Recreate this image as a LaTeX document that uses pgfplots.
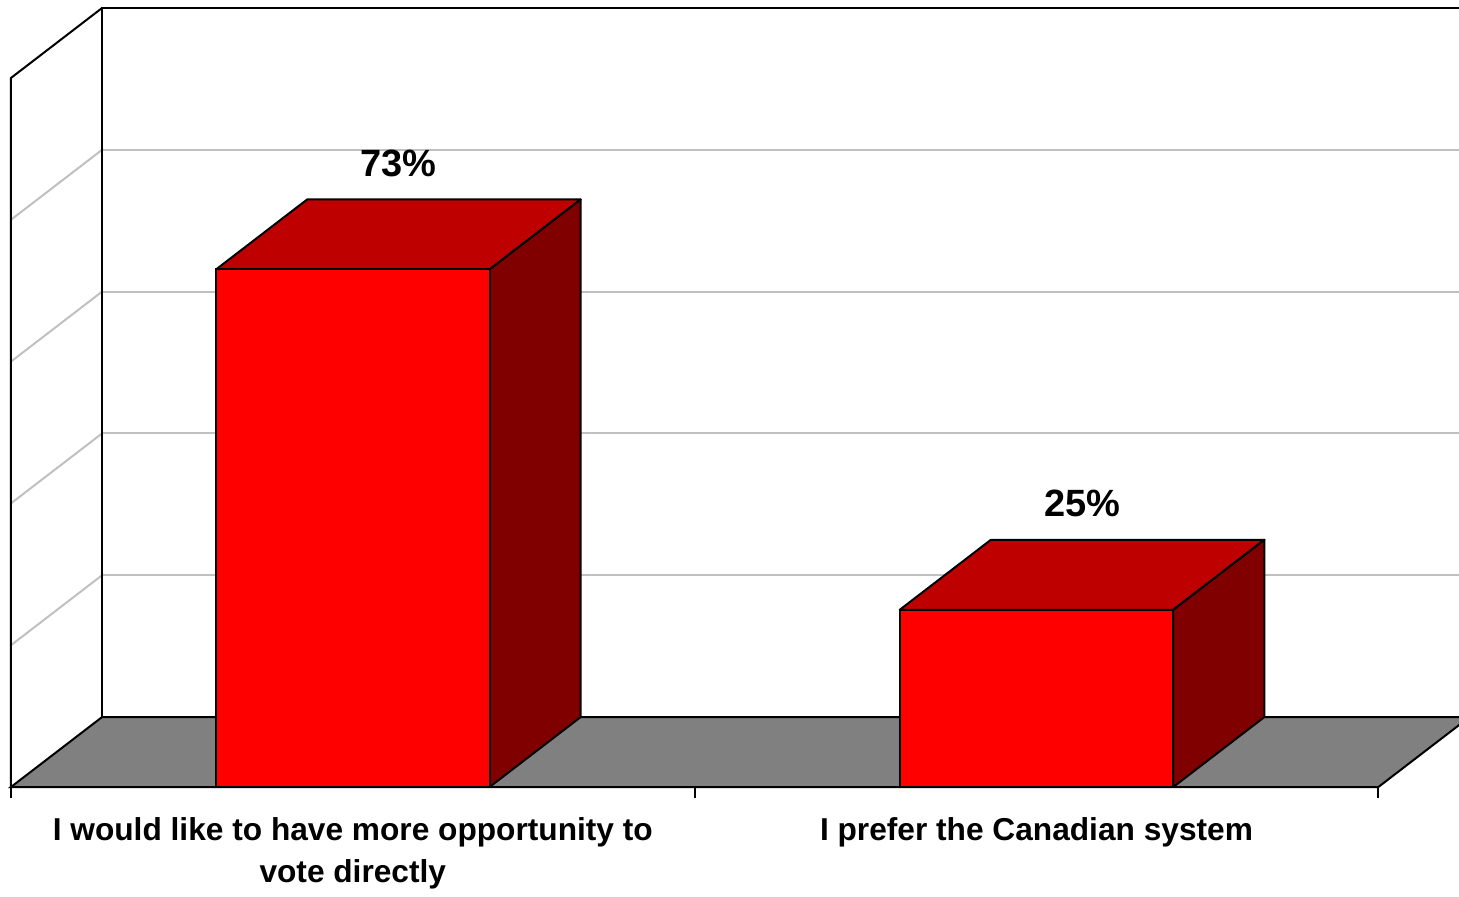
\documentclass[border=0pt]{standalone}
\usepackage{fontspec}
\setmainfont{Liberation Sans}
\usepackage{pgfplots}
\usepackage{pgfplotstable}
\pgfplotsset{compat=1.18}
\definecolor{frontred}{HTML}{FF0000}
\definecolor{topred}{HTML}{BF0000}
\definecolor{sidered}{HTML}{800000}
\definecolor{floorgray}{HTML}{808080}
\definecolor{gridgray}{HTML}{C0C0C0}

\pgfplotstableread{
x v
0 73
1 25
}\bars

\pgfplotstablegetelem{0}{v}\of\bars \edef\va{\pgfplotsretval}
\pgfplotstablegetelem{1}{v}\of\bars \edef\vb{\pgfplotsretval}

% depth offsets (axis units) and half bar width
\def\ddx{0.1333}
\def\ddy{9.87}
\def\hw{0.2}

\newcommand\barfaces[2]{%
  \pgfmathsetmacro\xl{#1-\hw}\pgfmathsetmacro\xr{#1+\hw}%
  \pgfmathsetmacro\xlb{#1-\hw+\ddx}\pgfmathsetmacro\xrb{#1+\hw+\ddx}%
  \pgfmathsetmacro\vt{#2+\ddy}%
  \edef\tmp{%
    \noexpand\addplot[fill=topred,draw=black,line width=0.6pt,line join=round] coordinates {(\xl,#2) (\xr,#2) (\xrb,\vt) (\xlb,\vt)} -- cycle;
    \noexpand\addplot[fill=sidered,draw=black,line width=0.6pt,line join=round] coordinates {(\xr,0) (\xrb,\ddy) (\xrb,\vt) (\xr,#2)} -- cycle;
  }\tmp}

\begin{document}
\begin{tikzpicture}
\begin{axis}[
  width=437.7pt, height=239.3pt, scale only axis,
  xmin=-0.516, xmax=1.618, ymin=-1.5, ymax=111.0,
  axis line style={draw=none},
  ytick=\empty,
  xtick={0,1},
  xtick pos=bottom,
  major tick length=0pt,
  xticklabels={{I would like to have more opportunity to\\vote directly},{I prefer the Canadian system}},
  xticklabel style={align=center, font=\bfseries\fontsize{9.5}{12.6}\selectfont, yshift=-3.9pt, inner sep=2pt},
]
% back wall gridlines
\pgfplotsinvokeforeach{20,40,60,80}{
  \addplot[gridgray, line width=0.6pt] coordinates {(-0.3667,#1+9.87) (1.7,#1+9.87)};
  \addplot[gridgray, line width=0.6pt] coordinates {(-0.5,#1) (-0.3667,#1+9.87)};
}
% walls
\addplot[black, line width=0.6pt] coordinates {(-0.3667,9.87) (-0.3667,109.87) (1.7,109.87)};
\addplot[black, line width=0.6pt, line join=round] coordinates {(-0.5,0) (-0.5,100) (-0.3667,109.87)};
% floor
\addplot[fill=floorgray, draw=black, line width=0.6pt] coordinates {(-0.5,0) (1.5,0) (1.6333,9.87) (-0.3667,9.87)} -- cycle;
% tick marks
\addplot[black, line width=0.6pt] coordinates {(-0.5,0) (-0.5,-1.5)};
\addplot[black, line width=0.6pt] coordinates {(0.5,0) (0.5,-1.5)};
\addplot[black, line width=0.6pt] coordinates {(1.5,0) (1.5,-1.5)};
% bars
\barfaces{0}{\va}
\barfaces{1}{\vb}
\addplot[ybar, bar width=0.4, fill=frontred, draw=black, line width=0.6pt] table[x=x, y=v]{\bars};
% value labels
\addplot[draw=none, mark=none, point meta=explicit symbolic,
  nodes near coords={\pgfplotspointmeta\%},
  every node near coord/.append style={anchor=base, yshift=7pt, inner sep=0pt, text=black, font=\bfseries\fontsize{11.4}{13}\selectfont}]
  table[x expr=\thisrow{x}+0.0667, y expr=\thisrow{v}+9.87, meta=v]{\bars};
\end{axis}
\end{tikzpicture}
\end{document}
